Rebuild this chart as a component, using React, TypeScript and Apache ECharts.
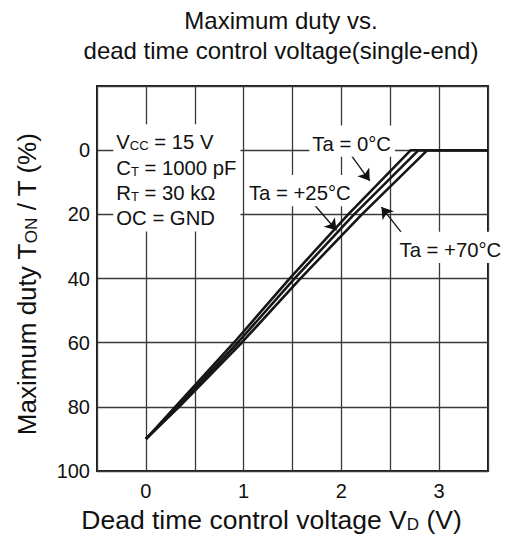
import React, { useEffect, useRef } from "react";
import * as echarts from "echarts";

// Duty levels (%) at which the voltages were read for each curve
const DUTY = [90, 80, 60, 40, 20, 0, 0];
// Dead time control voltage (V) for each curve at those duty levels
const V_TA0 = [0, 0.3, 0.9, 1.47, 2.07, 2.71, 3.5];
const V_TA25 = [0, 0.32, 0.94, 1.52, 2.13, 2.79, 3.5];
const V_TA70 = [0, 0.34, 0.98, 1.58, 2.21, 2.88, 3.5];

const X_TICKS = [0, 1, 2, 3];
const Y_TICKS = [0, 20, 40, 60, 80, 100];

const FONT = "'Liberation Sans', Arial, Helvetica, sans-serif";
const INK = "#111";

const pairs = (xs: number[], ys: number[]) => xs.map((x, i) => [x, ys[i]]);

const rich = (big: number, small: number, lh: number) => ({
  n: { fontSize: big, fontFamily: FONT, color: INK, verticalAlign: "bottom", lineHeight: lh },
  s: { fontSize: small, fontFamily: FONT, color: INK, verticalAlign: "bottom", lineHeight: lh },
});

const lineSeries = (name: string, xs: number[]) => ({
  name,
  type: "line",
  data: pairs(xs, DUTY),
  showSymbol: false,
  symbol: "none",
  silent: true,
  lineStyle: { color: "#161616", width: 2.6 },
  emphasis: { disabled: true },
});

const noteLabel = (text: string, align: string) => ({
  show: true,
  position: "inside",
  formatter: text,
  align,
  verticalAlign: "middle",
  backgroundColor: "#ffffff",
  padding: [3, 4, 3, 3],
  color: INK,
  fontSize: 20,
  fontFamily: FONT,
  rich: rich(20.3, 13, 25.3),
});

export default function App() {
  const ref = useRef<HTMLDivElement>(null);
  useEffect(() => {
    const chart = echarts.init(ref.current!, null, { renderer: "svg" });
    const s0: any = lineSeries("Ta = 0°C", V_TA0);
    s0.markPoint = {
      silent: true,
      symbol: "circle",
      symbolSize: 1,
      itemStyle: { color: "rgba(0,0,0,0)" },
      data: [
        {
          coord: [-0.333, 8.6],
          label: noteLabel(
            "{n|V}{s|CC}{n| = 15 V}\n{n|C}{s|T}{n| = 1000 pF}\n{n|R}{s|T}{n| = 30 kΩ}\n{n|OC = GND}",
            "left"
          ),
        },
        { coord: [2.11, -2.8], label: noteLabel("{n|Ta = 0°C}", "center") },
        { coord: [1.58, 12.6], label: noteLabel("{n|Ta = +25°C}", "center") },
        { coord: [3.12, 30.3], label: noteLabel("{n|Ta = +70°C}", "center") },
      ],
    };
    s0.markLine = {
      silent: true,
      symbol: ["none", "arrow"],
      symbolSize: 11,
      label: { show: false },
      itemStyle: { color: "#111" },
      lineStyle: { color: "#111", width: 1.3, type: "solid" },
      emphasis: { disabled: true },
      data: [
        [{ coord: [2.07, 0.28] }, { coord: [2.29, 9.53] }],
        [{ coord: [1.73, 17.24] }, { coord: [1.95, 24.96] }],
        [{ coord: [2.65, 26.99] }, { coord: [2.41, 17.74] }],
      ],
    };

    const option: any = {
      animation: false,
      backgroundColor: "#ffffff",
      title: {
        text: "Maximum duty vs.\ndead time control voltage(single-end)",
        left: 276,
        top: 0,
        textAlign: "center",
        textStyle: { fontSize: 24, fontWeight: "normal", lineHeight: 30, color: INK, fontFamily: FONT },
      },
      grid: {
        left: 97,
        top: 86,
        right: 24,
        bottom: 63,
        show: true,
        borderColor: "#1a1a1a",
        borderWidth: 2,
        backgroundColor: "#ffffff",
      },
      xAxis: {
        type: "value",
        min: -0.5,
        max: 3.5,
        interval: 0.5,
        axisLine: { show: false },
        axisTick: { show: false },
        splitLine: { show: true, lineStyle: { color: "#3a3a3a", width: 1.3 } },
        axisLabel: {
          margin: 10,
          fontSize: 20,
          color: INK,
          fontFamily: FONT,
          formatter: (v: number) => (X_TICKS.includes(v) ? String(v) : ""),
        },
        name: "{n|Dead time control voltage V}{s|D}{n| (V)}",
        nameLocation: "middle",
        nameGap: 30,
        nameTextStyle: {
          fontSize: 26.5,
          fontFamily: FONT,
          color: INK,
          padding: [0, 42, 0, 0],
          rich: rich(26.5, 17, 30),
        },
      },
      yAxis: {
        type: "value",
        inverse: true,
        min: -20,
        max: 100,
        interval: 20,
        axisLine: { show: false },
        axisTick: { show: false },
        splitLine: { show: true, lineStyle: { color: "#3a3a3a", width: 1.3 } },
        axisLabel: {
          margin: 7,
          fontSize: 20,
          color: INK,
          fontFamily: FONT,
          formatter: (v: number) => (Y_TICKS.includes(v) ? String(v) : ""),
        },
        name: "{n|Maximum duty T}{s|ON}{n| / T (%)}",
        nameLocation: "middle",
        nameRotate: 90,
        nameGap: 57,
        nameTextStyle: {
          fontSize: 26,
          fontFamily: FONT,
          color: INK,
          padding: [0, 11, 0, 0],
          rich: rich(26, 17, 30),
        },
      },
      series: [s0, lineSeries("Ta = +25°C", V_TA25), lineSeries("Ta = +70°C", V_TA70)],
    };
    chart.setOption(option);
    return () => chart.dispose();
  }, []);
  return (
    <div
      ref={ref}
      style={{ position: "absolute", left: 0, top: 0, width: 512, height: 538 }}
    />
  );
}
